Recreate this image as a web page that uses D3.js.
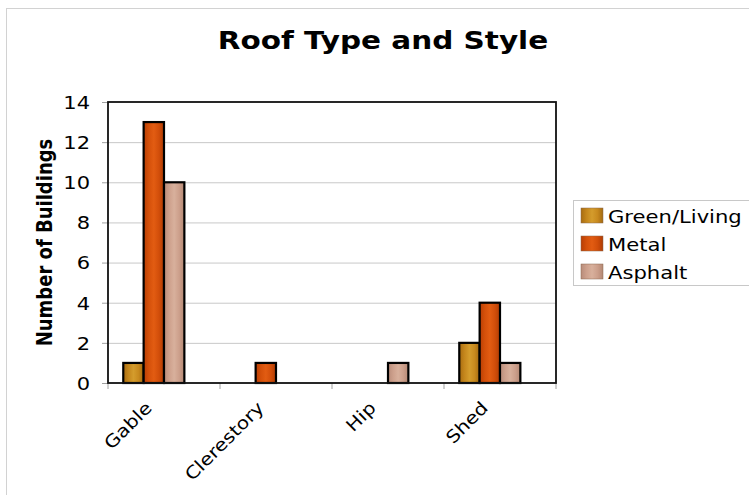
<!DOCTYPE html>
<html>
<head>
<meta charset="utf-8">
<script src="https://cdn.jsdelivr.net/npm/d3@7"></script>
<style>
  html, body { margin: 0; padding: 0; background: #fff; }
  svg { display: block; }
  text { font-family: "DejaVu Sans", Verdana, sans-serif; fill: #000; }
</style>
</head>
<body>
<svg id="chart" width="749" height="495"></svg>
<script>
// ---- data ----
const categories = ["Gable", "Clerestory", "Hip", "Shed"];
const seriesNames = ["Green/Living", "Metal", "Asphalt"];
const greenLiving = [1, 0, 0, 2];
const metal = [13, 1, 0, 4];
const asphalt = [10, 0, 1, 1];
const yTicks = [0, 2, 4, 6, 8, 10, 12, 14];
const title = "Roof Type and Style";
const yTitle = "Number of Buildings";
const seriesValues = [greenLiving, metal, asphalt];
// slots within each category (Excel leaves an empty fourth slot)
const slots = [...seriesNames, "(empty)"];

// ---- layout ----
const svg = d3.select("#chart");
const plot = { left: 108, right: 556, top: 102, bottom: 383 };
const sx = 1.2; // horizontal stretch of the reference's text

const x0 = d3.scaleBand().domain(categories).range([plot.left, plot.right]).padding(0);
const x1 = d3.scaleBand().domain(slots).range([0, x0.bandwidth()]).paddingInner(0).paddingOuter(0.75);
const y = d3.scaleLinear().domain([0, 14]).range([plot.bottom, plot.top]);

// gradients
const defs = svg.append("defs");
const gradStops = {
  "Green/Living": ["#a86c10", "#c4861c", "#d49c2c", "#c88a1e", "#a46a10"],
  "Metal": ["#b83e04", "#d4500a", "#e25c12", "#d24e0a", "#b03c04"],
  "Asphalt": ["#b88c7a", "#cda08c", "#d8b09c", "#cc9f8b", "#b48874"]
};
const color = d3.scaleOrdinal().domain(seriesNames).range(seriesNames.map((s, i) => `url(#g${i})`));
seriesNames.forEach((s, i) => {
  const g = defs.append("linearGradient").attr("id", "g" + i)
    .attr("x1", "0").attr("x2", "1").attr("y1", "0").attr("y2", "0");
  gradStops[s].forEach((c, j) => g.append("stop").attr("offset", j / 4).attr("stop-color", c));
});

// outer frame
svg.append("rect").attr("x", 6.5).attr("y", 8.5).attr("width", 800).attr("height", 600)
  .attr("fill", "none").attr("stroke", "#d2d2d2").attr("stroke-width", 1);

// title
svg.append("text")
  .attr("transform", `translate(383,49) scale(1.18,1)`)
  .attr("text-anchor", "middle")
  .style("font-size", "25px").style("font-weight", "bold")
  .text(title);

// gridlines
svg.append("g").selectAll("line").data(yTicks.filter(d => d > 0 && d < 14)).join("line")
  .attr("x1", plot.left).attr("x2", plot.right)
  .attr("y1", d => y(d) + 0.5).attr("y2", d => y(d) + 0.5)
  .attr("stroke", "#c8c8c8").attr("stroke-width", 1);

// y axis
const yAxis = svg.append("g").attr("transform", `translate(${plot.left},0)`)
  .call(d3.axisLeft(y).tickValues(yTicks).tickSize(6).tickPadding(0).tickFormat(d3.format("d")));
yAxis.select(".domain").remove();
yAxis.selectAll(".tick line").attr("stroke", "#a0a0a0");
yAxis.selectAll(".tick text")
  .attr("x", -18 / sx).attr("dy", "0.36em")
  .attr("transform", `scale(${sx},1)`)
  .style("font-size", "17.5px").style("font-family", "DejaVu Sans, Verdana, sans-serif");

// x axis (ticks at category boundaries)
const xBounds = [...categories.map(c => x0(c)), plot.right];
svg.append("g").selectAll("line").data(xBounds).join("line")
  .attr("x1", d => d).attr("x2", d => d)
  .attr("y1", plot.bottom).attr("y2", plot.bottom + 6)
  .attr("stroke", "#a0a0a0");

svg.append("g").selectAll("text").data(categories).join("text")
  .attr("transform", c => `translate(${x0(c) + x0.bandwidth() / 2 - 11},409) rotate(-45) scale(1.15,1)`)
  .attr("text-anchor", "end")
  .style("font-size", "17.5px")
  .text(c => c);

// bars
const barData = [];
categories.forEach((c, ci) => {
  seriesNames.forEach((s, si) => {
    const v = seriesValues[si][ci];
    if (v > 0) barData.push({ c, s, v });
  });
});
svg.append("g").selectAll("rect").data(barData).join("rect")
  .attr("x", d => x0(d.c) + x1(d.s))
  .attr("y", d => y(d.v))
  .attr("width", x1.bandwidth())
  .attr("height", d => y(0) - y(d.v))
  .attr("fill", d => color(d.s))
  .attr("stroke", "#000").attr("stroke-width", 2.2);

// plot frame
svg.append("rect")
  .attr("x", plot.left).attr("y", plot.top)
  .attr("width", plot.right - plot.left).attr("height", plot.bottom - plot.top)
  .attr("fill", "none").attr("stroke", "#111").attr("stroke-width", 1.8);

// y title
svg.append("text")
  .attr("transform", `translate(52,242.5) scale(${sx},1) rotate(-90)`)
  .attr("text-anchor", "middle")
  .style("font-size", "18px").style("font-weight", "bold")
  .text(yTitle);

// legend
const legend = svg.append("g");
legend.append("rect").attr("x", 573.5).attr("y", 200.5).attr("width", 200).attr("height", 85)
  .attr("fill", "#fff").attr("stroke", "#c8c8c8");
const items = legend.selectAll("g.item").data(seriesNames).join("g").attr("class", "item")
  .attr("transform", (d, i) => `translate(0,${i * 28})`);
items.append("rect").attr("x", 581).attr("y", 208).attr("width", 22).attr("height", 15)
  .attr("fill", d => color(d)).attr("stroke", "#8a6a50").attr("stroke-width", 0.5);
items.append("text")
  .attr("transform", `translate(608,223) scale(${sx},1)`)
  .style("font-size", "17.6px")
  .text(d => d);
</script>
</body>
</html>
